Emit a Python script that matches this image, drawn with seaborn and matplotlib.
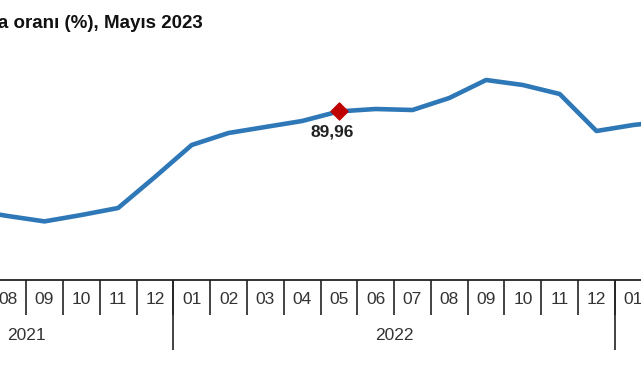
import pandas as pd
import matplotlib
matplotlib.use("Agg")
import matplotlib.pyplot as plt
import matplotlib.transforms as mtransforms
import seaborn as sns

# data (07/2021 .. 02/2023)
months = ["07", "08", "09", "10", "11", "12",
          "01", "02", "03", "04", "05", "06", "07", "08", "09", "10", "11", "12",
          "01", "02"]
years = [2021] * 6 + [2022] * 12 + [2023] * 2
values = [80.1, 79.5, 78.96, 79.6, 80.3, 83.4,
          86.6, 87.8, 88.4, 89.0, 89.96, 90.2, 90.1, 91.3, 93.1, 92.6, 91.7, 88.0,
          88.6, 89.0]
highlight_label = "89,96"
highlight_idx = 10
year_labels = ["2021", "2022"]
title = "karşılama oranı (%), Mayıs 2023"

df = pd.DataFrame({"idx": range(len(values)), "month": months, "year": years, "value": values})

sns.set_theme(style="white")
plt.rcParams['font.family'] = ['Liberation Sans', 'DejaVu Sans']

fig = plt.figure(figsize=(6.41, 3.80), dpi=100)
ax = fig.add_axes([0, 100 / 380, 1, 280 / 380])

sns.lineplot(data=df, x="idx", y="value", color="#2F78B8", linewidth=3.3, ax=ax)

row = df.iloc[highlight_idx]
ax.scatter([row["idx"]], [row["value"]], marker="D", s=75, color="#C00000", zorder=5)
ax.annotate(highlight_label, (row["idx"], row["value"]), xytext=(-7, -21),
            textcoords="offset pixels", ha="center", va="center",
            fontsize=12.5, fontweight="bold", color="#222222")

# month dividers (major ticks) and month labels (minor ticks)
ax.set_xticks([i + 0.5 for i in range(len(values))])
ax.set_xticklabels([])
ax.set_xticks(df["idx"], minor=True)
ax.set_xticklabels(df["month"], minor=True)
ax.tick_params(axis="x", which="major", direction="out", length=25, width=1.2,
               color="#222222", bottom=True)
ax.tick_params(axis="x", which="minor", length=0, pad=9, labelsize=12.5,
               labelcolor="#333333", bottom=True)
ax.set_yticks([])
ax.set_xlabel("")
ax.set_ylabel("")

ax.set_xlim(0.79, 18.21)
ax.set_ylim(73.1, 101.1)

for s in ["top", "left", "right"]:
    ax.spines[s].set_visible(False)
ax.spines["bottom"].set_color("#222222")
ax.spines["bottom"].set_linewidth(1.3)

# longer year boundary lines and year labels (series starts at 05/2021 in the source)
trans = mtransforms.blended_transform_factory(ax.transData, ax.transAxes)
bounds = [i - 0.5 for i in range(1, len(years)) if years[i] != years[i - 1]]
ax.vlines(bounds, -70 / 280, 0, transform=trans, color="#222222", linewidth=1.2, clip_on=False)
year_pos = [(-2.5 + bounds[0]) / 2, (bounds[0] + bounds[1]) / 2]
for lab, xp in zip(year_labels, year_pos):
    ax.text(xp, -55 / 280, lab, transform=trans, ha="center", va="center",
            fontsize=12.5, color="#333333")

fig.text(203 / 641, 1 - 23 / 380, title, ha="right", va="center",
         fontsize=13.5, fontweight="bold", color="#111111")

fig.savefig("out.png", dpi=100)
